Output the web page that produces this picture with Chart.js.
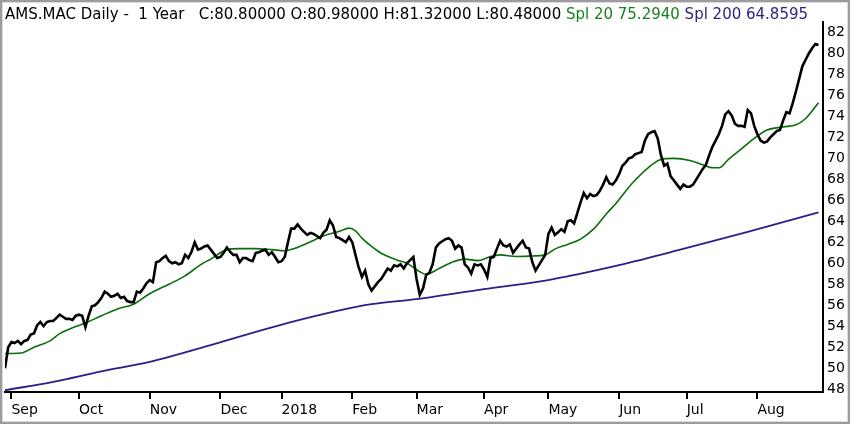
<!DOCTYPE html>
<html>
<head>
<meta charset="utf-8">
<script src="https://cdn.jsdelivr.net/npm/chart.js@4/dist/chart.umd.min.js"></script>
<style>
  html, body { margin: 0; padding: 0; background: #fff; }
  #wrap { position: relative; width: 850px; height: 424px; overflow: hidden; background: #fff; }
  #frame { position: absolute; left: 0; top: 0; width: 850px; height: 424px; box-sizing: border-box;
           border: 2px solid #9c9c9c; box-shadow: inset 0 0 0 1px #dcdcdc; pointer-events: none; }
  #hdr { position: absolute; left: 5px; top: 5px; font-family: "DejaVu Sans", sans-serif; font-size: 15px;
         white-space: pre; color: #000; line-height: 18px; }
  #hdr .g { color: #1a7f1a; }
  #hdr .p { color: #2e2385; }
  canvas { position: absolute; left: 0; top: 0; }
</style>
</head>
<body>
<div id="wrap">
  <canvas id="c" width="850" height="424"></canvas>
  <div id="hdr">AMS.MAC Daily -  1 Year   C:80.80000 O:80.98000 H:81.32000 L:80.48000 <span class="g">Spl 20 75.2940</span> <span class="p">Spl 200 64.8595</span></div>
  <div id="frame"></div>
</div>
<script>
// Month labels and the trading-day index where each month starts
const monthLabels = ['Sep','Oct','Nov','Dec','2018','Feb','Mar','Apr','May','Jun','Jul','Aug'];
const monthTickIdx = [2, 23, 45, 67, 86, 108, 128, 149, 169, 191, 212, 234];

// Y tick labels
const yTicks = [48,50,52,54,56,58,60,62,64,66,68,70,72,74,76,78,80,82];

// Daily close, one value per trading day (index 0 .. 253)
const price = [
  50.0, 52.0, 52.5, 52.4, 52.6, 52.3, 52.6, 52.7, 53.2, 53.3,
  54.1, 54.4, 54.0, 54.4, 54.5, 54.5, 54.8, 55.1, 54.9, 54.7,
  54.7, 54.6, 55.0, 55.1, 55.0, 53.9, 55.0, 55.9, 56.0, 56.3,
  56.7, 57.3, 57.1, 56.8, 56.9, 57.1, 56.7, 56.8, 56.4, 56.3,
  56.3, 57.3, 57.2, 57.6, 58.1, 58.4, 58.2, 60.1, 60.2, 60.5,
  60.7, 60.2, 60.0, 60.1, 59.9, 60.0, 60.8, 60.5, 61.1, 62.0,
  61.3, 61.4, 61.6, 61.7, 61.3, 60.9, 60.5, 60.6, 61.0, 61.5,
  61.1, 60.8, 60.8, 60.1, 60.5, 60.5, 60.3, 60.2, 61.0, 61.05,
  61.2, 61.3, 60.8, 61.05, 60.6, 60.1, 60.2, 60.6, 62.0, 63.3,
  63.3, 63.7, 63.3, 63.0, 62.7, 62.9, 62.8, 62.6, 62.4, 62.9,
  63.2, 64.1, 63.6, 62.5, 62.4, 62.2, 62.0, 62.5, 62.0, 60.8,
  59.6, 58.7, 59.3, 58.0, 57.4, 57.8, 58.2, 58.5, 59.0, 59.5,
  59.3, 59.8, 59.7, 59.9, 59.5, 60.0, 60.3, 60.6, 58.5, 57.0,
  57.6, 58.9, 59.1, 59.9, 61.5, 61.9, 62.1, 62.3, 62.4, 62.15,
  61.4, 61.7, 61.5, 59.9, 59.6, 59.0, 59.9, 59.8, 59.9, 59.4,
  58.7, 60.5, 60.6, 61.4, 62.15, 61.7, 61.6, 61.8, 61.0, 61.4,
  61.8, 62.15, 61.5, 61.4, 60.1, 59.3, 59.8, 60.3, 60.8, 62.8,
  63.4, 62.7, 62.95, 63.25, 63.0, 64.0, 64.1, 63.8, 64.8, 65.8,
  66.7, 66.2, 66.6, 66.4, 66.5, 66.9, 67.5, 68.2, 67.6, 67.5,
  67.9, 68.5, 69.3, 69.6, 70.0, 70.1, 70.4, 70.5, 70.6, 71.7,
  72.3, 72.5, 72.6, 71.9, 70.3, 69.3, 69.5, 68.3, 67.9, 67.5,
  67.1, 67.5, 67.3, 67.3, 67.5, 68.0, 68.5, 69.0, 69.4, 70.3,
  71.1, 71.7, 72.3, 73.1, 74.2, 74.5, 74.1, 73.3, 73.1, 73.1,
  73.0, 74.6, 74.3, 73.1, 72.3, 71.7, 71.5, 71.6, 72.0, 72.3,
  72.6, 72.7, 73.6, 74.4, 74.3, 75.3, 76.4, 77.6, 78.8, 79.4,
  80.0, 80.5, 80.9, 80.8
];

// 20-day simple moving average at these day indices
const spl20Idx = [0,5,9,14,17,21,25,30,35,40,45,51,56,61,64,69,73,78,83,87,90,94,99,104,107,109,111,114,117,122,125,129,131,135,139,143,147,151,154,159,164,168,171,175,179,183,187,190,195,200,204,208,213,217,220,222,225,229,233,237,242,246,249,253];
const spl20Val = [51.4,51.45,52.0,52.6,53.3,53.85,54.3,55.0,55.65,56.1,57.1,58.0,58.8,59.9,60.4,61.3,61.4,61.4,61.3,61.2,61.4,61.9,62.6,63.05,63.35,63.1,62.4,61.6,60.95,60.3,60.0,59.2,58.95,59.5,60.1,60.4,60.25,60.65,60.8,60.65,60.7,60.8,61.35,61.8,62.3,63.25,64.7,65.7,67.6,69.1,69.9,70.0,69.8,69.4,69.1,69.1,69.9,70.9,71.9,72.7,73.0,73.2,73.8,75.3];

// 200-day simple moving average at these day indices
const spl200Idx = [0,15,30,45,65,83,104,114,127,147,168,178,192,210,231,253];
const spl200Val = [47.9,48.7,49.7,50.6,52.3,53.9,55.5,56.1,56.55,57.45,58.35,58.95,59.9,61.3,63.0,64.86];

const FONT = '"DejaVu Sans", sans-serif';

new Chart(document.getElementById('c'), {
  type: 'line',
  data: {
    datasets: [
      {
        label: 'AMS.MAC',
        data: price.map((v, i) => ({ x: i, y: v })),
        borderColor: '#000000',
        borderWidth: 2.6,
        pointRadius: 0,
        tension: 0,
        order: 0
      },
      {
        label: 'Spl 20',
        data: spl20Idx.map((x, i) => ({ x: x, y: spl20Val[i] })),
        borderColor: '#0b6d0b',
        borderWidth: 1.6,
        pointRadius: 0,
        cubicInterpolationMode: 'monotone',
        order: 1
      },
      {
        label: 'Spl 200',
        data: spl200Idx.map((x, i) => ({ x: x, y: spl200Val[i] })),
        borderColor: '#2b1f88',
        borderWidth: 1.8,
        pointRadius: 0,
        cubicInterpolationMode: 'monotone',
        order: 2
      }
    ]
  },
  options: {
    responsive: false,
    animation: false,
    devicePixelRatio: 1,
    layout: { padding: { top: 22, left: 5, right: 0, bottom: 0 } },
    plugins: { legend: { display: false }, tooltip: { enabled: false }, title: { display: false } },
    scales: {
      x: {
        type: 'linear',
        min: 0,
        max: 254.4,
        afterFit: (s) => { s.height = 32; },
        afterBuildTicks: (s) => { s.ticks = monthTickIdx.map(v => ({ value: v })); },
        border: { display: true, color: '#000', width: 2 },
        grid: { display: true, drawOnChartArea: false, drawTicks: true, tickLength: 7, color: '#000', lineWidth: 2 },
        ticks: {
          autoSkip: false, maxRotation: 0, minRotation: 0, align: 'start', padding: 3,
          color: '#000', font: { family: FONT, size: 14 },
          callback: (v) => { const k = monthTickIdx.indexOf(v); return k >= 0 ? monthLabels[k] : ''; }
        }
      },
      y: {
        position: 'right',
        min: 47.73,
        max: 83.0,
        afterFit: (s) => { s.width = 27; },
        afterBuildTicks: (s) => { s.ticks = yTicks.map(v => ({ value: v })); },
        border: { display: true, color: '#000', width: 2 },
        grid: { display: false, drawTicks: false },
        ticks: {
          padding: 4, color: '#000', font: { family: FONT, size: 14 },
          callback: (v) => String(v)
        }
      }
    }
  }
});
</script>
</body>
</html>
